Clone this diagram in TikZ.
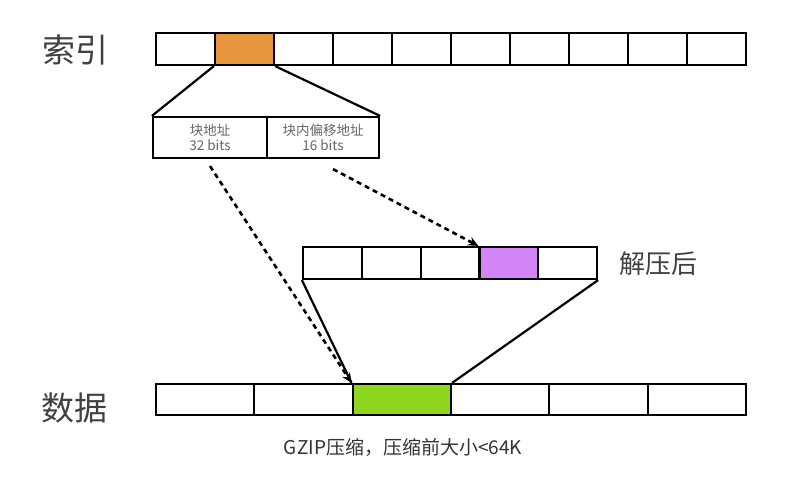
\documentclass[tikz,border=0pt]{standalone}
\usepackage{fontspec}
\setmainfont{Noto Sans CJK SC}
\usetikzlibrary{arrows.meta}
\definecolor{idxorange}{RGB}{232,150,62}
\definecolor{decpurple}{RGB}{211,133,245}
\definecolor{datgreen}{RGB}{143,215,30}
\def \idxw{59}
\def \decw{58.8}
\def \datw{98.33}

\begin{document}
\begin{tikzpicture}[x=1pt,y=-1pt,
    cell/.style={draw, line width=2.2pt, inner sep=0pt, minimum height=32pt},
    link/.style={line width=2.2pt},
    ptr/.style={line width=2.6pt, dash pattern=on 5pt off 4pt, -{Stealth[length=10pt,width=9pt]}},
    bigtxt/.style={font=\fontsize{33}{33}\selectfont, text=black!75}]

    \useasboundingbox (0,0) rectangle (803,479);

    % index row
    \foreach \i in {0,...,9}
      \node[cell, minimum width=\idxw pt] (idx\i) at (185.5+\idxw*\i,49) {};
    \node[cell, minimum width=\idxw pt, fill=idxorange] (idx1) at (185.5+\idxw,49) {};

    % block address
    \node[cell, minimum width=114pt, minimum height=41pt, align=center,
      font=\fontsize{13.5}{15}\selectfont, text=black!60] (addr) at (210,137.5) {块地址\\32 bits};
    \node[cell, minimum width=112pt, minimum height=41pt, align=center,
      font=\fontsize{13.5}{15}\selectfont, text=black!60] (off) at (323,137.5) {块内偏移地址\\16 bits};

    % decompressed row
    \foreach \i in {0,...,4}
      \node[cell, minimum width=\decw pt] (dec\i) at (332.4+\decw*\i,263) {};
    \node[cell, minimum width=\decw pt, fill=decpurple] (dec3) at (332.4+\decw*3,263) {};

    % data row
    \foreach \i in {0,...,5}
      \node[cell, minimum width=\datw pt, minimum height=31pt] (dat\i) at (205.17+\datw*\i,399.5) {};
    \node[cell, minimum width=\datw pt, minimum height=31pt, fill=datgreen] (dat2) at (205.17+\datw*2,399.5) {};

    \draw[link] (idx1.south west) -- (addr.north west);
    \draw[link] (idx1.south east) -- (off.north east);
    \draw[link] (dec0.south west) -- (dat2.north west);
    \draw[link] (dec4.south east) -- (dat2.north east);

    \coordinate (p1) at ([yshift=-7pt]addr.south);
    \coordinate (p2) at ([xshift=10pt,yshift=-10pt]off.south);
    \draw[ptr] (p1) -- (dat2.north west);
    \draw[ptr] (p2) -- (dec3.north west);

    \node[bigtxt] (lidx) at (75,50) {索引};
    \node[bigtxt] (ldat) at (74,408) {数据};
    \node[font=\fontsize{26}{26}\selectfont, text=black!75] (ldec) at (658,264) {解压后};
    \node[font=\fontsize{19}{19}\selectfont, text=black!80] (cap) at (403,447) {GZIP压缩，压缩前大小<64K};

  \end{tikzpicture}
\end{document}
